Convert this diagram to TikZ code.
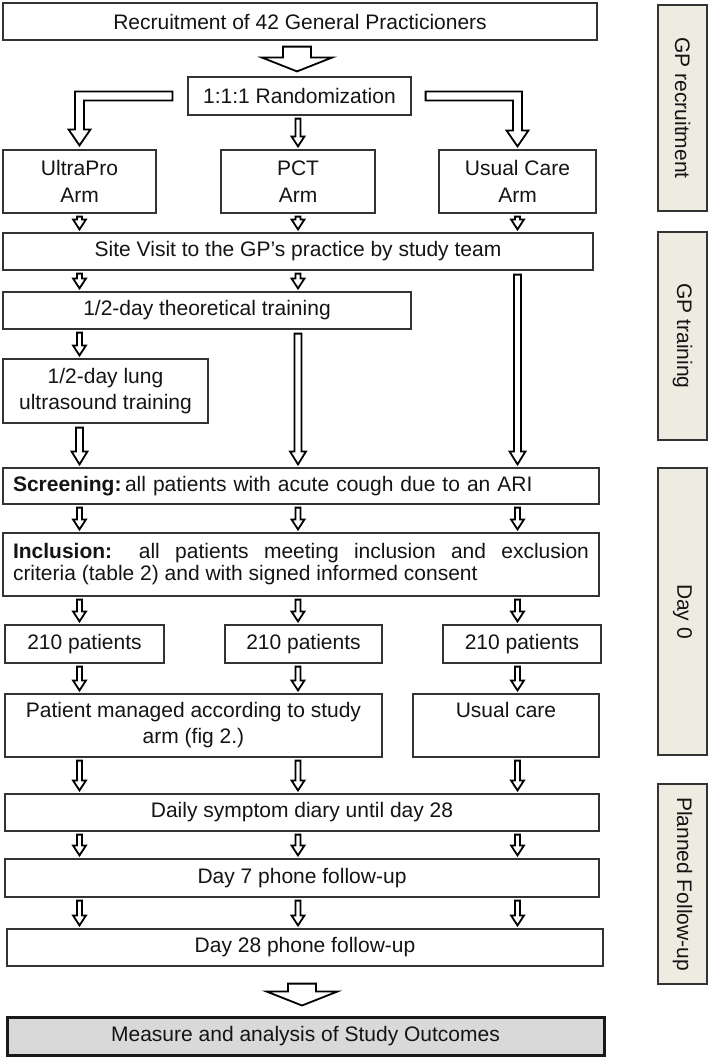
\documentclass[tikz,border=0pt]{standalone}
\usepackage{fontspec}
\setmainfont{Liberation Sans}
\usetikzlibrary{calc}
\definecolor{boxc}{HTML}{333333}
\definecolor{sidefill}{HTML}{EEECE1}
\definecolor{sideline}{HTML}{333333}
\definecolor{measfill}{HTML}{D9D9D9}
\newcommand\mainsz{\fontsize{21}{26}\selectfont}
% generic hollow downward arrow: #1 shaft half width, #2 head half width, #3 head length, #4 start, #5 tip
\newcommand\vhollow[5]{\draw[arr] let \p1=#4, \p2=#5 in
 ({\x1-#1},\y1) -- ({\x1-#1},{\y2+#3}) -- ({\x1-#2},{\y2+#3}) -- (\x1,\y2)
 -- ({\x1+#2},{\y2+#3}) -- ({\x1+#1},{\y2+#3}) -- ({\x1+#1},\y1) -- cycle;}
% small arrow in column #1 from node #2 to node #3
\newcommand\sarr[3]{\vhollow{2.5pt}{6.5pt}{10pt}{($(#1 |- #2.south)+(0,3)$)}{($(#1 |- #3.north)+(0,-3)$)}}
% long arrow in column #1 from node #2 to node #3
\newcommand\larr[3]{\vhollow{3.5pt}{8pt}{13pt}{($(#1 |- #2.south)+(0,4)$)}{($(#1 |- #3.north)+(0,-3)$)}}
% big arrow from node #1 to node #2 (gaps #3, #4)
\newcommand\barr[4]{\vhollow{14pt}{35.5pt}{14pt}{($(#1.south)+(-3,#3)$)}{($(#1.south |- #2.north)+(-3,-#4)$)}}
% L-shaped hollow arrow: #1 direction (1 right, -1 left), #2 start, #3 tip
\newcommand\Larr[3]{\draw[arr] let \p1=#2, \p2=#3 in
 (\x1,{\y1+4.5pt}) -- ({\x2+#1*4.5pt},{\y1+4.5pt}) -- ({\x2+#1*4.5pt},{\y2+16pt})
 -- ({\x2+#1*11pt},{\y2+16pt}) -- (\x2,\y2) -- ({\x2-#1*11pt},{\y2+16pt})
 -- ({\x2-#1*4.5pt},{\y2+16pt}) -- ({\x2-#1*4.5pt},{\y1-4.5pt}) -- (\x1,{\y1-4.5pt}) -- cycle;}
\begin{document}
\begin{tikzpicture}[x=1pt,y=-1pt,
  box/.style={draw=boxc, line width=1.2pt, fill=white, inner sep=0pt, align=center,
    font=\mainsz, text=black!92},
  side/.style={draw=sideline, line width=1.4pt, fill=sidefill, inner sep=0pt,
    font=\mainsz, text=black!92, rotate=-90, minimum height=49},
  arr/.style={draw=black, line width=1.8pt, fill=white, line join=miter}]
\fill[white] (0,0) rectangle (709,1058);
\path[use as bounding box] (0,0) rectangle (709,1058);

% main boxes
\node[box, minimum width=594, minimum height=37] (rec) at (300,21.5) {Recruitment of 42 General Practicioners};
\node[box, minimum width=223, minimum height=38] (rand) at (299.5,96) {1:1:1 Randomization};
\node[box, minimum width=153, minimum height=63] (armA) at (79.5,181.5) {UltraPro\\[1pt]Arm};
\node[box, minimum width=154, minimum height=63] (armB) at (298,181.5) {PCT\\[1pt]Arm};
\node[box, minimum width=157, minimum height=63] (armC) at (517.5,181.5) {Usual Care\\[1pt]Arm};
\node[box, minimum width=590, minimum height=37] (site) at (298,251.5) {Site Visit to the GP’s practice by study team};
\node[box, minimum width=408, minimum height=37] (theory) at (207,310.5) {1/2-day theoretical training};
\node[box, minimum width=205, minimum height=64] (lung) at (105.5,391) {1/2-day lung\\ultrasound training};
\node[box, minimum width=596, minimum height=36, text width=576, align=left] (screen) at (301,486)
  {\textbf{Screening:}\,all patients with acute cough due to an ARI};
\node[box, minimum width=596, minimum height=63, text width=576, align=justify,
  font=\fontsize{21}{22}\selectfont] (incl) at (301,564.5)
  {\textbf{Inclusion:} all patients meeting inclusion and exclusion\linebreak
   criteria (table 2) and with signed informed consent};
\node[box, minimum width=159, minimum height=38] (pA) at (84.5,644) {210 patients};
\node[box, minimum width=157, minimum height=38] (pB) at (303.5,644) {210 patients};
\node[box, minimum width=158, minimum height=38] (pC) at (522,644) {210 patients};
\node[box, minimum width=377, minimum height=63] (pm) at (193.5,725.5) {Patient managed according to study\\arm (fig 2.)};
\node[box, minimum width=186, minimum height=63] (uc) at (506,725.5) {Usual care\\\phantom{arm (fig 2.)}};
\node[box, minimum width=594, minimum height=37] (daily) at (302,812.5) {Daily symptom diary until day 28};
\node[box, minimum width=594, minimum height=38] (day7) at (302,878) {Day 7 phone follow-up};
\node[box, minimum width=596, minimum height=37] (day28) at (305,947.5) {Day 28 phone follow-up};
\node[box, draw=black!90, line width=3pt, fill=measfill, minimum width=597, minimum height=38] (meas) at (305.5,1036)
  {Measure and analysis of Study Outcomes};

% side boxes
\node[side, minimum width=206] (s1) at (682.5,108) {GP recruitment};
\node[side, minimum width=208] (s2) at (682.5,336) {GP training};
\node[side, minimum width=287] (s3) at (682.5,611.5) {Day 0};
\node[side, minimum width=200] (s4) at (682.5,884) {Planned Follow-up};

% columns
\coordinate (cA) at (armA.center);
\coordinate (cB) at (armB.center);
\coordinate (cC) at (armC.center);

% arrows
\barr{rec}{rand}{6}{5}
\Larr{-1}{($(rand.west)+(-15,0)$)}{($(armA.north)+(0,-4)$)}
\Larr{1}{($(rand.east)+(14,0)$)}{($(armC.north)+(0,-3)$)}
\sarr{cB}{rand}{armB}

\sarr{cA}{armA}{site}
\sarr{cB}{armB}{site}
\sarr{cC}{armC}{site}

\sarr{cA}{site}{theory}
\sarr{cB}{site}{theory}
\larr{cC}{site}{screen}

\sarr{cA}{theory}{lung}
\larr{cB}{theory}{screen}
\larr{cA}{lung}{screen}

\sarr{cA}{screen}{incl}
\sarr{cB}{screen}{incl}
\sarr{cC}{screen}{incl}

\sarr{cA}{incl}{pA}
\sarr{cB}{incl}{pB}
\sarr{cC}{incl}{pC}

\sarr{cA}{pA}{pm}
\sarr{cB}{pB}{pm}
\sarr{cC}{pC}{uc}

\sarr{cA}{pm}{daily}
\sarr{cB}{pm}{daily}
\sarr{cC}{uc}{daily}

\sarr{cA}{daily}{day7}
\sarr{cB}{daily}{day7}
\sarr{cC}{daily}{day7}

\sarr{cA}{day7}{day28}
\sarr{cB}{day7}{day28}
\sarr{cC}{day7}{day28}

\barr{day28}{meas}{17}{10}
\end{tikzpicture}
\end{document}
